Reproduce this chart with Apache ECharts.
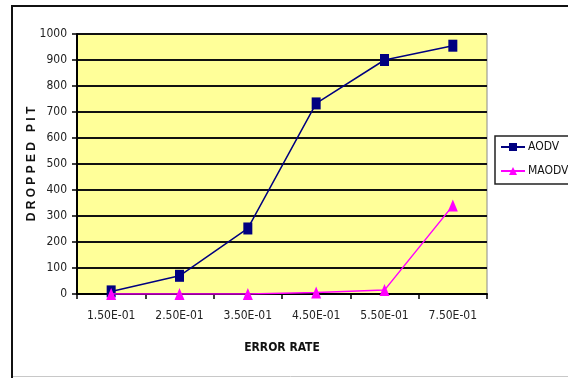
<!DOCTYPE html>
<html>
<head>
<meta charset="utf-8">
<script src="https://cdn.jsdelivr.net/npm/echarts@6/dist/echarts.min.js"></script>
<style>
  html, body { margin: 0; padding: 0; background: #fff; }
  #chart { width: 568px; height: 378px; }
</style>
</head>
<body>
<div id="chart"></div>
<script>
// Error rates on the x axis and dropped packets per protocol
const errorRates = ['1.50E-01', '2.50E-01', '3.50E-01', '4.50E-01', '5.50E-01', '7.50E-01'];
const aodvDropped = [10, 70, 252, 733, 900, 955];
const maodvDropped = [0, 0, 0, 6, 15, 340];

const narrow = '"Liberation Sans Narrow", "Arial Narrow", "DejaVu Sans Condensed", "Liberation Sans", Arial, sans-serif';

const chart = echarts.init(document.getElementById('chart'), null, { renderer: 'canvas' });

chart.setOption({
  animation: false,
  backgroundColor: '#ffffff',
  graphic: [
    {
      type: 'rect',
      z: -10,
      shape: { x: 12, y: 6, width: 620, height: 420 },
      style: { fill: 'none', stroke: '#111', lineWidth: 2 }
    },
    {
      type: 'line',
      z: -10,
      shape: { x1: 13, y1: 376.5, x2: 568, y2: 376.5 },
      style: { stroke: '#c8c8c8', lineWidth: 1 }
    }
  ],
  grid: {
    left: 77,
    top: 34,
    right: 81,
    bottom: 84,
    show: true,
    backgroundColor: '#ffff99',
    borderColor: '#8a8a8a',
    borderWidth: 1
  },
  legend: {
    orient: 'vertical',
    left: 495,
    top: 136,
    padding: [5, 40, 7, 5],
    itemGap: 12,
    itemWidth: 24,
    itemHeight: 10,
    borderColor: '#222',
    borderWidth: 1.5,
    backgroundColor: '#fff',
    textStyle: { fontFamily: narrow, fontSize: 12, color: '#111', padding: [0, 0, 0, -2] },
    data: ['AODV', 'MAODV']
  },
  xAxis: {
    type: 'category',
    data: errorRates,
    boundaryGap: true,
    name: 'ERROR RATE',
    nameLocation: 'middle',
    nameGap: 48,
    nameMoveOverlap: false,
    nameTextStyle: { fontFamily: narrow, fontSize: 12, fontWeight: 'bold', color: '#111' },
    axisLine: { lineStyle: { color: '#000', width: 2 } },
    axisTick: { show: true, length: 5, inside: false, lineStyle: { color: '#000', width: 1.5 } },
    axisLabel: { fontFamily: narrow, fontSize: 12, color: '#222', margin: 16 },
    splitLine: { show: false }
  },
  yAxis: {
    type: 'value',
    min: 0,
    max: 1000,
    interval: 100,
    name: 'D R O P P E D   P I T',
    nameLocation: 'middle',
    nameRotate: 90,
    nameGap: 39,
    nameMoveOverlap: false,
    nameTextStyle: { fontFamily: '"Liberation Sans", Arial, sans-serif', fontSize: 12, fontWeight: 'bold', color: '#111' },
    axisLine: { show: true, lineStyle: { color: '#000', width: 2 } },
    axisTick: { show: true, length: 5, inside: false, lineStyle: { color: '#000', width: 1.5 } },
    axisLabel: {
      fontFamily: narrow,
      fontSize: 12,
      color: '#222',
      margin: 10,
      formatter: function (v) { return String(v); }
    },
    splitLine: { show: true, lineStyle: { color: '#111', width: 2 } }
  },
  series: [
    {
      name: 'AODV',
      type: 'line',
      data: aodvDropped,
      symbol: 'rect',
      symbolSize: [9, 12],
      color: '#000080',
      lineStyle: { color: '#000080', width: 1.5 },
      itemStyle: { color: '#000080' },
      z: 3
    },
    {
      name: 'MAODV',
      type: 'line',
      data: maodvDropped,
      symbol: 'triangle',
      symbolSize: [10, 12],
      color: '#ff00ff',
      lineStyle: { color: '#ff00ff', width: 1.5 },
      itemStyle: { color: '#ff00ff' },
      z: 4
    }
  ]
});
</script>
</body>
</html>
